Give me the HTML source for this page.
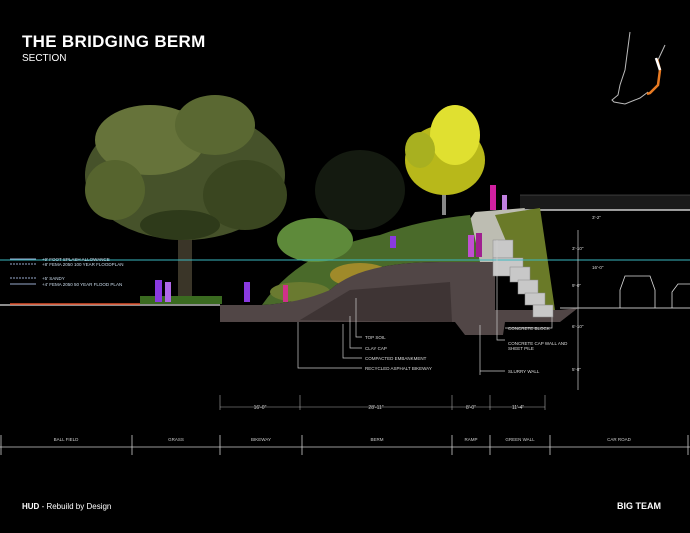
<!DOCTYPE html>
<html><head><style>
body{margin:0;background:#000;width:690px;height:533px;overflow:hidden;font-family:"Liberation Sans",sans-serif}
svg{display:block}
</style></head><body>
<svg width="690" height="533" viewBox="0 0 690 533" xmlns="http://www.w3.org/2000/svg">
<rect width="690" height="533" fill="#000"/>
<text x="22" y="47" fill="#fff" font-size="17" font-weight="bold" letter-spacing="0.3">THE BRIDGING BERM</text>
<text x="22" y="61" fill="#fff" font-size="10">SECTION</text>
<!-- map -->
<g fill="none" stroke="#bbb" stroke-width="1">
<path d="M630 32 L625 70 L620 85 L618 95 L612 100 L614 102 L625 104 L640 98 L648 92"/>
<path d="M665 45 L658 60"/>
</g>
<path d="M657 59 L660 70 L658 85 L650 93 L647 94" fill="none" stroke="#e87a22" stroke-width="2.5"/>
<path d="M656 58 L660 70" stroke="#fff" stroke-width="2.5"/>
<!-- dark background trees -->
<ellipse cx="360" cy="190" rx="45" ry="40" fill="#141a10"/>
<!-- big tree -->
<rect x="178" y="200" width="14" height="100" fill="#3a3528"/>
<ellipse cx="185" cy="175" rx="100" ry="65" fill="#46522a"/>
<ellipse cx="150" cy="140" rx="55" ry="35" fill="#66733a"/>
<ellipse cx="215" cy="125" rx="40" ry="30" fill="#5a6832"/>
<ellipse cx="115" cy="190" rx="30" ry="30" fill="#56642e"/>
<ellipse cx="245" cy="195" rx="42" ry="35" fill="#3a4620"/>
<ellipse cx="180" cy="225" rx="40" ry="15" fill="#2e3a1a"/>
<!-- yellow tree -->
<rect x="442" y="180" width="4" height="35" fill="#888"/>
<ellipse cx="445" cy="160" rx="40" ry="35" fill="#b8b81a"/>
<ellipse cx="455" cy="135" rx="25" ry="30" fill="#e0e030"/>
<ellipse cx="420" cy="150" rx="15" ry="18" fill="#a8b020"/>
<!-- deck -->
<rect x="520" y="195" width="170" height="15" fill="#1a1a1a"/>
<line x1="520" y1="210" x2="690" y2="210" stroke="#ccc" stroke-width="1.5"/>
<line x1="520" y1="195" x2="690" y2="195" stroke="#666" stroke-width="0.5"/>
<!-- ramp -->
<path d="M440 262 L475 212 L525 208 L500 262 Z" fill="#bdbdb2"/>
<!-- vegetation on berm -->
<path d="M262 305 Q300 250 380 235 Q420 220 470 215 L480 262 L440 262 Q360 262 330 290 Q300 303 262 305Z" fill="#4a6a2a"/>
<ellipse cx="315" cy="240" rx="38" ry="22" fill="#5e8a3a"/>
<ellipse cx="360" cy="275" rx="30" ry="12" fill="#a08a2a"/>
<ellipse cx="300" cy="292" rx="30" ry="10" fill="#6a7a30"/>
<!-- green wall -->
<path d="M495 215 L540 208 L555 310 L535 310 Z" fill="#6a7a28"/>
<!-- soil -->
<path d="M220 305 L262 305 Q300 303 330 290 Q360 262 440 262 L495 262 L495 310 L560 310 L578 308 L560 322 L505 322 L503 335 L465 335 L455 322 L220 322 Z" fill="#514646"/>
<path d="M300 320 L350 290 L450 282 L452 322 Z" fill="#3e3434"/>
<!-- blocks -->
<g fill="#c8c8c8" stroke="#888" stroke-width="0.5">
<rect x="493" y="240" width="20" height="18"/><rect x="493" y="258" width="30" height="18"/>
<rect x="510" y="267" width="20" height="15"/><rect x="518" y="280" width="20" height="14"/>
<rect x="525" y="293" width="20" height="12"/><rect x="533" y="305" width="20" height="12"/>
</g>
<!-- cyan line -->
<line x1="0" y1="260" x2="690" y2="260" stroke="#3ab8c0" stroke-width="1"/>
<!-- ground -->
<line x1="0" y1="305" x2="220" y2="305" stroke="#bbb" stroke-width="1.5"/>
<line x1="10" y1="304" x2="140" y2="304" stroke="#e0502a" stroke-width="1.5"/>
<rect x="140" y="296" width="82" height="8" fill="#3a6a20"/>
<line x1="560" y1="308" x2="690" y2="308" stroke="#bbb" stroke-width="1"/>
<!-- cars -->
<g fill="none" stroke="#ddd" stroke-width="0.8">
<path d="M620 308 L620 290 L625 276 L650 276 L655 290 L655 308"/>
<path d="M672 308 L672 292 L678 284 L690 284"/>
</g>
<!-- people -->
<g fill="#8a3ae0"><rect x="155" y="280" width="7" height="22"/><rect x="244" y="282" width="6" height="20"/><rect x="390" y="236" width="6" height="12"/></g>
<rect x="165" y="282" width="6" height="20" fill="#b068e8"/>
<rect x="283" y="285" width="5" height="17" fill="#d0308a"/>
<rect x="468" y="235" width="6" height="22" fill="#c050d0"/>
<rect x="476" y="233" width="6" height="24" fill="#a02090"/>
<rect x="490" y="185" width="6" height="25" fill="#d020a0"/>
<rect x="502" y="195" width="5" height="15" fill="#c080e0"/>
<!-- legend -->
<g stroke="#9ac" stroke-width="1"><line x1="10" y1="259" x2="36" y2="259"/><line x1="10" y1="264" x2="36" y2="264" stroke-dasharray="2 1"/><line x1="10" y1="278" x2="36" y2="278" stroke-dasharray="2 1"/><line x1="10" y1="284" x2="36" y2="284"/></g>
<g fill="#cde" font-size="4.5"><text x="42" y="261">+9' FOOT SPLASH ALLOWANCE</text><text x="42" y="266">+8' FEMA 2050 100 YEAR FLOODPLAN</text><text x="42" y="280">+5' SANDY</text><text x="42" y="286">+4' FEMA 2050 50 YEAR FLOOD PLAN</text></g>
<!-- callouts -->
<g stroke="#ccc" stroke-width="0.7" fill="none">
<path d="M356 298 V337 H362"/><path d="M350 316 V348 H362"/><path d="M343 324 V358 H362"/><path d="M298 322 V368 H362"/>
<path d="M497 240 V340 H505"/><path d="M480 325 V375 M480 371 H505"/>
<path d="M552 317 V328 H505"/>
<line x1="578" y1="230" x2="578" y2="390"/>
</g>
<g fill="#ddd" font-size="4.5"><text x="365" y="339">TOP SOIL</text><text x="365" y="350">CLAY CAP</text><text x="365" y="360">COMPACTED EMBANKMENT</text><text x="365" y="370">RECYCLED ASPHALT BIKEWAY</text>
<text x="508" y="330">CONCRETE BLOCK</text><text x="508" y="345">CONCRETE CAP WALL AND</text><text x="508" y="350">SHEET PILE</text><text x="508" y="373">SLURRY WALL</text>
<text x="572" y="328">6'-10"</text><text x="572" y="371">5'-8"</text><text x="572" y="250">3'-10"</text><text x="572" y="287">9'-0"</text><text x="592" y="219">3'-2"</text><text x="592" y="269">16'-0"</text></g>
<!-- dims -->
<g stroke="#aaa" stroke-width="0.6"><line x1="220" y1="407" x2="545" y2="407"/><line x1="220" y1="395" x2="220" y2="410"/><line x1="300" y1="395" x2="300" y2="410"/><line x1="452" y1="395" x2="452" y2="410"/><line x1="490" y1="395" x2="490" y2="410"/><line x1="545" y1="395" x2="545" y2="410"/></g>
<g fill="#ccc" font-size="5" text-anchor="middle"><text x="260" y="409">16'-0"</text><text x="376" y="409">28'-11"</text><text x="471" y="409">8'-0"</text><text x="518" y="409">11'-4"</text></g>
<!-- scale -->
<line x1="0" y1="447" x2="690" y2="447" stroke="#ccc" stroke-width="0.8"/>
<g stroke="#ccc" stroke-width="0.8"><line x1="1" y1="435" x2="1" y2="455"/><line x1="132" y1="435" x2="132" y2="455"/><line x1="220" y1="435" x2="220" y2="455"/><line x1="302" y1="435" x2="302" y2="455"/><line x1="452" y1="435" x2="452" y2="455"/><line x1="490" y1="435" x2="490" y2="455"/><line x1="550" y1="435" x2="550" y2="455"/><line x1="688" y1="435" x2="688" y2="455"/></g>
<g fill="#ccc" font-size="4.5" text-anchor="middle"><text x="66" y="441">BALL FIELD</text><text x="176" y="441">GRASS</text><text x="261" y="441">BIKEWAY</text><text x="377" y="441">BERM</text><text x="471" y="441">RAMP</text><text x="520" y="441">GREEN WALL</text><text x="619" y="441">CAR ROAD</text></g>
<text x="22" y="509" fill="#fff" font-size="8"><tspan font-weight="bold">HUD</tspan> - Rebuild by Design</text>
<text x="617" y="509" fill="#fff" font-size="9" font-weight="bold">BIG TEAM</text>
</svg>
</body></html>
